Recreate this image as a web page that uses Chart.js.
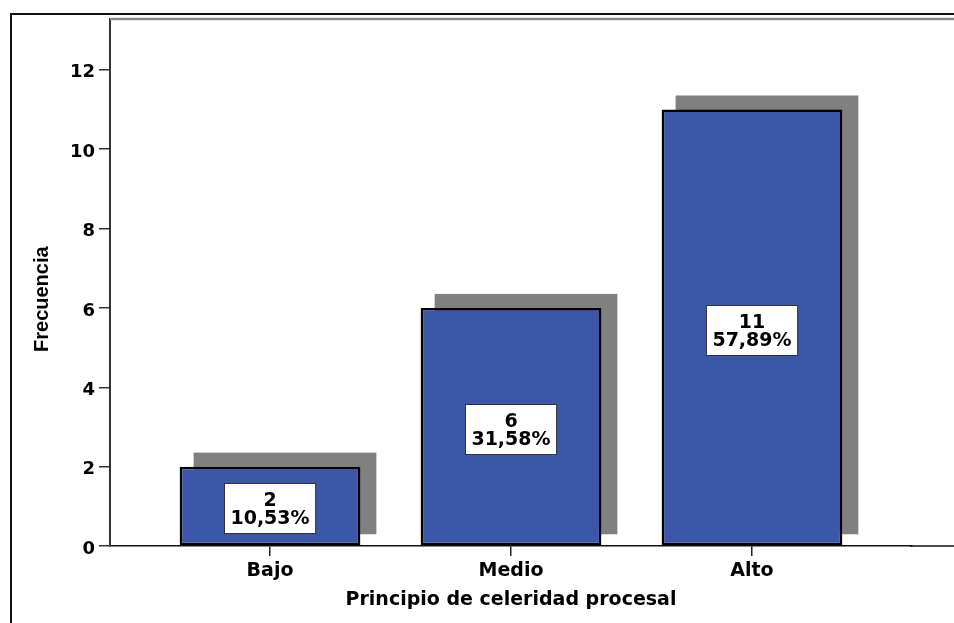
<!DOCTYPE html>
<html>
<head>
<meta charset="utf-8">
<script src="https://cdn.jsdelivr.net/npm/chart.js@4"></script>
<style>
  html, body { margin: 0; padding: 0; background: #fff; overflow: hidden; }
  #wrap { position: relative; width: 954px; height: 623px; overflow: hidden; }
  canvas { display: block; }
</style>
</head>
<body>
<div id="wrap"><canvas id="c" width="954" height="623"></canvas></div>
<script>
const categories = ["Bajo", "Medio", "Alto"];
const counts = [2, 6, 11];
const percentLabels = ["10,53%", "31,58%", "57,89%"];
const yTickStep = 2;
const yMax = 13.28;

const FONT = "'DejaVu Sans', 'Liberation Sans', Arial, sans-serif";

const framePlugin = {
  id: 'frame',
  beforeDraw(chart) {
    const ctx = chart.ctx;
    ctx.save();
    ctx.fillStyle = '#fff';
    ctx.fillRect(0, 0, chart.width, chart.height);
    ctx.strokeStyle = '#111';
    ctx.lineWidth = 2;
    ctx.beginPath();
    ctx.moveTo(11, chart.height + 2);
    ctx.lineTo(11, 14);
    ctx.lineTo(chart.width + 4, 14);
    ctx.stroke();
    ctx.restore();
  },
  afterDraw(chart) {
    const ctx = chart.ctx;
    const a = chart.chartArea;
    ctx.save();
    ctx.strokeStyle = '#8a8a8a';
    ctx.lineWidth = 2.5;
    ctx.beginPath();
    ctx.moveTo(a.left, a.top);
    ctx.lineTo(chart.width + 4, a.top);
    ctx.stroke();
    ctx.strokeStyle = '#111';
    ctx.lineWidth = 1.5;
    ctx.beginPath();
    ctx.moveTo(a.right - 2, a.bottom);
    ctx.lineTo(chart.width + 4, a.bottom);
    ctx.stroke();
    ctx.restore();
  }
};

const shadowPlugin = {
  id: 'shadow',
  beforeDatasetsDraw(chart) {
    const ctx = chart.ctx;
    const meta = chart.getDatasetMeta(0);
    ctx.save();
    ctx.fillStyle = '#808080';
    meta.data.forEach(el => {
      const p = el.getProps(['x', 'y', 'base', 'width'], true);
      const left = p.x - p.width / 2 + 14;
      const right = p.x + p.width / 2 + 16;
      const top = p.y - 14;
      const bottom = p.base - 11;
      ctx.fillRect(left, top, right - left, bottom - top);
    });
    ctx.restore();
  }
};

const labelPlugin = {
  id: 'boxLabels',
  afterDatasetsDraw(chart) {
    const ctx = chart.ctx;
    const meta = chart.getDatasetMeta(0);
    ctx.save();
    ctx.font = "bold 19px " + FONT;
    ctx.textAlign = 'center';
    ctx.textBaseline = 'alphabetic';
    meta.data.forEach((el, i) => {
      const p = el.getProps(['x', 'y', 'base'], true);
      const cx = p.x;
      const cy = (p.y + p.base) / 2 + 2.5;
      const l1 = String(counts[i]);
      const l2 = percentLabels[i];
      const w = Math.max(ctx.measureText(l1).width, ctx.measureText(l2).width) + 12;
      const h = 50;
      const bx = Math.round(cx - w / 2) + 0.5;
      const by = Math.round(cy - h / 2) + 0.5;
      ctx.fillStyle = '#fff';
      ctx.fillRect(bx, by, w, h);
      ctx.strokeStyle = '#333';
      ctx.lineWidth = 1;
      ctx.strokeRect(bx, by, w, h);
      ctx.fillStyle = '#000';
      ctx.fillText(l1, cx, cy - 2);
      ctx.fillText(l2, cx, cy + 16);
    });
    ctx.restore();
  }
};

new Chart(document.getElementById('c'), {
  type: 'bar',
  data: {
    datasets: [{
      data: counts.map((v, i) => ({ x: i, y: v })),
      backgroundColor: '#3C56A8',
      borderColor: '#000',
      borderWidth: 2.5,
      borderSkipped: false,
      barPercentage: 0.75,
      categoryPercentage: 1.0
    }]
  },
  options: {
    responsive: false,
    animation: false,
    devicePixelRatio: 1,
    layout: { padding: { top: 19, right: 42, left: 0, bottom: 0 } },
    plugins: {
      legend: { display: false },
      tooltip: { enabled: false }
    },
    scales: {
      x: {
        type: 'linear',
        offset: false,
        min: -0.664,
        max: 2.664,
        afterBuildTicks: s => { s.ticks = categories.map((c, i) => ({ value: i })); },
        afterFit: s => { s.height = 77; },
        ticks: {
          callback: v => categories[v] ?? '',
          color: '#000',
          font: { family: FONT, size: 19, weight: 'bold' },
          padding: 4,
          maxRotation: 0,
          autoSkip: false
        },
        grid: {
          display: true,
          offset: false,
          drawOnChartArea: false,
          drawTicks: true,
          tickLength: 10,
          color: '#222',
          lineWidth: 1.5
        },
        border: { display: true, color: '#111', width: 1.5 },
        title: {
          display: true,
          text: 'Principio de celeridad procesal',
          color: '#000',
          font: { family: FONT, size: 19, weight: 'bold' },
          padding: { top: 0, bottom: 12 }
        }
      },
      y: {
        min: 0,
        max: yMax,
        afterFit: s => { s.width = 110; },
        ticks: {
          stepSize: yTickStep,
          includeBounds: false,
          color: '#000',
          font: { family: FONT, size: 18, weight: 'bold' },
          padding: 4,
          labelOffset: 3
        },
        grid: {
          display: true,
          drawOnChartArea: false,
          drawTicks: true,
          tickLength: 11,
          color: '#333',
          lineWidth: 1.5
        },
        border: { display: true, color: '#333', width: 2 },
        title: {
          display: true,
          text: 'Frecuencia      ',
          color: '#000',
          font: { family: "'Liberation Sans', Arial, sans-serif", size: 20, weight: 'bold' },
          padding: { top: 30, bottom: 0 }
        }
      }
    }
  },
  plugins: [framePlugin, shadowPlugin, labelPlugin]
});
</script>
</body>
</html>
